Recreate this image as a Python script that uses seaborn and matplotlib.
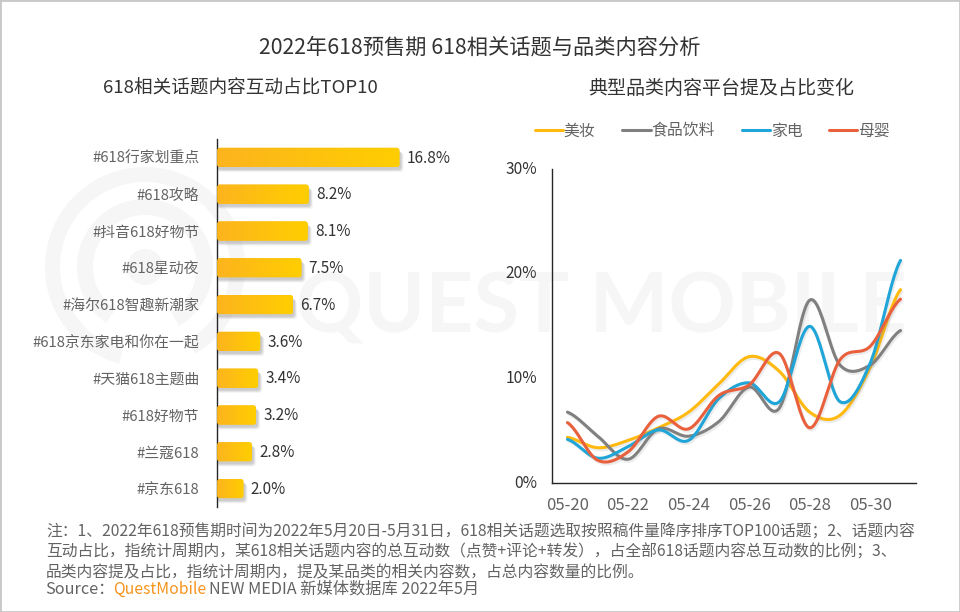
import numpy as np
import pandas as pd
import matplotlib
matplotlib.use('Agg')
import matplotlib.pyplot as plt
import matplotlib.patheffects as pe
from matplotlib.patches import FancyBboxPatch, Wedge, Circle
from matplotlib.colors import LinearSegmentedColormap
from matplotlib.transforms import ScaledTranslation
import seaborn as sns

# 话题数据
topics = ['#618行家划重点', '#618攻略', '#抖音618好物节', '#618星动夜', '#海尔618智趣新潮家',
          '#618京东家电和你在一起', '#天猫618主题曲', '#618好物节', '#兰蔻618', '#京东618']
topic_share = [16.8, 8.2, 8.1, 7.5, 6.7, 3.6, 3.4, 3.2, 2.8, 2.0]

# 品类数据
dates = ['05-20', '05-21', '05-22', '05-23', '05-24', '05-25',
         '05-26', '05-27', '05-28', '05-29', '05-30', '05-31']
beauty = [4.4, 3.4, 4.1, 5.3, 6.8, 9.5, 12.1, 10.7, 6.8, 6.5, 11.1, 18.5]
food = [6.8, 4.5, 2.3, 5.2, 4.5, 5.9, 9.2, 7.2, 17.5, 11.3, 11.3, 14.6]
appliance = [4.2, 2.4, 3.5, 5.1, 4.1, 8.1, 9.6, 7.8, 15.0, 7.8, 11.5, 21.3]
baby = [5.8, 2.2, 3.0, 6.4, 5.2, 8.4, 9.4, 12.4, 5.3, 11.8, 13.1, 17.6]
series_names = ['美妆', '食品饮料', '家电', '母婴']
series_colors = ['#FFB90F', '#808080', '#1FA5D8', '#E9603D']

W, H = 960, 612
TEXT = '#636363'
DARK = '#333333'
FAMILY = ['Noto Sans CJK SC', 'DejaVu Sans']

sns.set_theme(style='white')
plt.rcParams['font.family'] = FAMILY
plt.rcParams['axes.unicode_minus'] = False


def px_axes(fig, left, top, right, bottom, **kw):
    return fig.add_axes([left / W, 1 - bottom / H, (right - left) / W, (bottom - top) / H], **kw)


def smooth(values, steps=24):
    # Excel的平滑线，节点还是读出来的值
    p = np.array([values[0]] + list(values) + [values[-1]], dtype=float)
    xs, ys = [], []
    for i in range(1, len(p) - 2):
        t = np.linspace(0, 1, steps, endpoint=False)
        c1 = p[i] + (p[i + 1] - p[i - 1]) / 6
        c2 = p[i + 1] - (p[i + 2] - p[i]) / 6
        ys.extend((1 - t) ** 3 * p[i] + 3 * (1 - t) ** 2 * t * c1 + 3 * (1 - t) * t ** 2 * c2 + t ** 3 * p[i + 1])
        xs.extend(i - 1 + t)
    xs.append(len(values) - 1)
    ys.append(values[-1])
    return xs, ys


fig = plt.figure(figsize=(W / 100, H / 100), dpi=100, facecolor='white')

# 背景水印和边框
bg = fig.add_axes([0, 0, 1, 1], zorder=-1)
bg.set_xlim(0, W)
bg.set_ylim(H, 0)
bg.set_xticks([])
bg.set_yticks([])
for s in bg.spines.values():
    s.set_color('#C8C8C8')
    s.set_linewidth(2)
MARK = '#F6F6F6'
bg.add_patch(Wedge((145, 267), 100, 105, 60, width=15, color=MARK, lw=0))
bg.add_patch(Wedge((145, 267), 68, 125, 60, width=16, color=MARK, lw=0))
bg.add_patch(Circle((145, 267), 18, color=MARK, lw=0))
bg.text(296, 332, 'QUEST MOBILE', fontsize=60, color=MARK, family='Lato', weight='bold', va='baseline', ha='left')

fig.text(480 / W, 1 - 48 / H, '2022年618预售期 618相关话题与品类内容分析', fontsize=15.3, color=DARK, ha='center', va='center')
fig.text(240 / W, 1 - 89 / H, '618相关话题内容互动占比TOP10', fontsize=13.4, color=DARK, ha='center', va='center')
fig.text(721 / W, 1 - 89 / H, '典型品类内容平台提及占比变化', fontsize=13.7, color=DARK, ha='center', va='center')

# 左图
ax1 = px_axes(fig, 217.3, 139, 450, 507, facecolor='none')
df_top = pd.DataFrame({'topic': topics, 'share': topic_share})
sns.barplot(data=df_top, x='share', y='topic', orient='h', width=0.52, color='#FFC000', ax=ax1)
x_max = (450 - 217.3) / 10.54
ax1.set_xlim(0, x_max)
ylim = ax1.get_ylim()
x_unit, y_unit = 10.54, 36.8
gold = LinearSegmentedColormap.from_list('gold', ['#FDB41E', '#FFCE00'])
gradient = np.linspace(0, 1, 128).reshape(1, -1)
for bar in list(ax1.patches):
    bar.set_visible(False)
    x0, y0, w, h = bar.get_x(), bar.get_y(), bar.get_width(), bar.get_height()
    w += 5 / x_unit
    for k, a in zip([5.0, 4.0, 3.0], [0.10, 0.14, 0.20]):
        ax1.add_patch(FancyBboxPatch((x0, y0 + k / y_unit), w + (k - 1) / x_unit, h,
                                     boxstyle='round,pad=0,rounding_size=0.3', mutation_aspect=x_unit / y_unit,
                                     fc='#7F7F7F', ec='none', alpha=a, zorder=2))
    box = FancyBboxPatch((x0, y0), w, h, boxstyle='round,pad=0,rounding_size=0.25',
                         mutation_aspect=x_unit / y_unit, fc='#FFC000', ec='none', zorder=3)
    ax1.add_patch(box)
    im = ax1.imshow(gradient, extent=[x0, x0 + w, y0 + h, y0], cmap=gold, aspect='auto', zorder=4)
    im.set_clip_path(box)
for i, v in enumerate(topic_share):
    ax1.annotate(f'{v:.1f}%', (v, i), xytext=(8.9, -0.5), textcoords='offset points',
                 fontsize=11, color=DARK, va='center', ha='left')
ax1.set_xlim(0, x_max)
ax1.set_ylim(ylim)
ax1.set_xlabel('')
ax1.set_ylabel('')
ax1.set_xticks([])
ax1.tick_params(axis='y', length=0, pad=13, labelsize=10.7, labelcolor=TEXT)
sns.despine(ax=ax1, bottom=True)
ax1.spines['left'].set_color('#262626')
ax1.spines['left'].set_linewidth(1)

# 右图
ax2 = px_axes(fig, 552.3, 169.3, 915.7, 483.3, facecolor='none')
rows = []
for name, vals in zip(series_names, [beauty, food, appliance, baby]):
    xs, ys = smooth(vals)
    rows.append(pd.DataFrame({'x': xs, 'y': ys, 'series': name}))
df_line = pd.concat(rows, ignore_index=True)
sns.lineplot(data=df_line, x='x', y='y', hue='series', hue_order=series_names, palette=series_colors,
             sort=False, estimator=None, linewidth=2.2, solid_capstyle='round', ax=ax2)
for line in ax2.get_lines():
    line.set_path_effects([pe.SimpleLineShadow(offset=(1, -1.5), shadow_color='#808080', alpha=0.15), pe.Normal()])
ax2.set_xlim(-0.5, len(dates) - 0.5)
ax2.set_ylim(0, 30)
ax2.set_yticks([0, 10, 20, 30])
ax2.set_yticklabels(['0%', '10%', '20%', '30%'], fontsize=11.2, color=DARK)
ax2.set_xticks(range(0, len(dates), 2))
ax2.set_xticklabels(dates[::2], fontsize=12, color=TEXT)
ax2.tick_params(axis='both', length=0)
ax2.tick_params(axis='x', pad=10)
ax2.tick_params(axis='y', pad=11)
shift = ScaledTranslation(0, 2 / 100, fig.dpi_scale_trans)
for label in ax2.get_yticklabels():
    label.set_transform(label.get_transform() + shift)
ax2.set_xlabel('')
ax2.set_ylabel('')
sns.despine(ax=ax2)
for s in ['left', 'bottom']:
    ax2.spines[s].set_color('#262626')
    ax2.spines[s].set_linewidth(1)
leg = ax2.legend(title=None, ncol=4, frameon=False, loc='center left',
                 bbox_to_anchor=(535 / W, 1 - 131 / H), bbox_transform=fig.transFigure,
                 handlelength=1.77, handletextpad=0.05, columnspacing=1.7, fontsize=11.4,
                 borderpad=0, borderaxespad=0)
for t in leg.get_texts():
    t.set_color(TEXT)
for h in leg.get_lines():
    h.set_linewidth(2.2)
    h.set_path_effects([])

# 注释
notes = ['注：1、2022年618预售期时间为2022年5月20日-5月31日，618相关话题选取按照稿件量降序排序TOP100话题；2、话题内容',
         '互动占比，指统计周期内，某618相关话题内容的总互动数（点赞+评论+转发），占全部618话题内容总互动数的比例；3、',
         '品类内容提及占比，指统计周期内，提及某品类的相关内容数，占总内容数量的比例。']
for y, line in zip([532, 552, 573], notes):
    fig.text(46 / W, 1 - y / H, line, fontsize=11.35, color=TEXT, ha='left', va='center')
fig.text(45 / W, 1 - 589 / H, 'Source：', fontsize=11.7, color=TEXT, ha='left', va='center')
fig.text(113 / W, 1 - 589 / H, 'QuestMobile', fontsize=11.3, color='#F7941D', ha='left', va='center')
fig.text(209 / W, 1 - 589 / H, 'NEW MEDIA 新媒体数据库 2022年5月', fontsize=11.7, color=TEXT, ha='left', va='center')

fig.savefig('out.png', dpi=100)
